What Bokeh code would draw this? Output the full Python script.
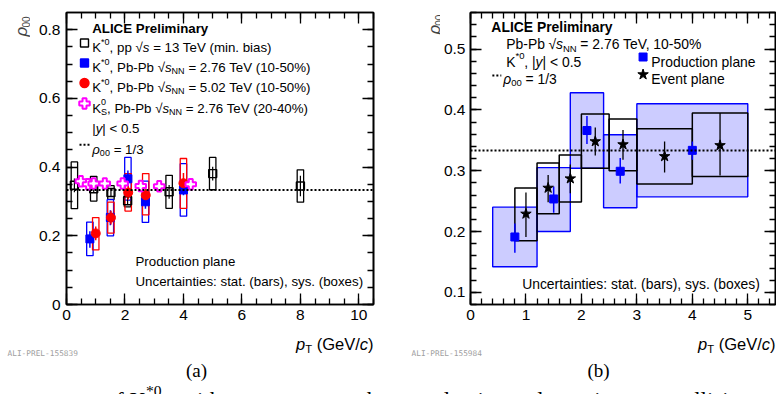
import math
from bokeh.plotting import figure
from bokeh.models import Label, LinearAxis, Range1d, Span, SingleIntervalTicker
from bokeh.layouts import column, row
from bokeh.embed import file_html
from bokeh.resources import INLINE

# ---------------- data : panel (a) production plane ----------------
pp13_pt   = [0.27, 0.93, 1.52, 2.09, 3.51, 5.00, 8.00]
pp13_rho  = [0.347, 0.337, 0.326, 0.302, 0.328, 0.381, 0.345]
pp13_stat = [0.020, 0.012, 0.010, 0.010, 0.020, 0.020, 0.030]
pp13_sys  = [0.068, 0.036, 0.020, 0.018, 0.048, 0.047, 0.047]

pb276_pt      = [0.80, 1.50, 2.10, 2.70, 4.00]
pb276_rho     = [0.191, 0.2535, 0.366, 0.299, 0.3334]
pb276_stat_lo = [0.165, 0.231, 0.344, 0.279, 0.318]
pb276_stat_hi = [0.213, 0.274, 0.390, 0.321, 0.348]
pb276_sys_lo  = [0.142, 0.200, 0.304, 0.239, 0.257]
pb276_sys_hi  = [0.240, 0.305, 0.428, 0.359, 0.410]
pb276_bin_lo  = [0.4, 1.2, 1.8, 2.4, 3.0]
pb276_bin_hi  = [1.2, 1.8, 2.4, 3.0, 5.0]

pb502_pt     = [1.00, 1.52, 2.11, 2.71, 4.00]
pb502_rho    = [0.207, 0.253, 0.326, 0.318, 0.353]
pb502_stat   = [0.020, 0.020, 0.020, 0.020, 0.030]
pb502_sys_lo = [0.159, 0.208, 0.272, 0.261, 0.280]
pb502_sys_hi = [0.253, 0.298, 0.381, 0.381, 0.425]

k0s_pt  = [0.49, 0.74, 0.93, 1.31, 1.92, 2.54, 3.17, 4.25]
k0s_rho = [0.359, 0.350, 0.352, 0.352, 0.352, 0.345, 0.344, 0.350]

# ---------------- data : panel (b) event plane ----------------
ep_pt      = [1.00, 1.40, 1.80, 2.25, 2.75, 3.50, 4.50]
ep_bin_lo  = [0.8, 1.2, 1.6, 2.0, 2.5, 3.0, 4.0]
ep_bin_hi  = [1.2, 1.6, 2.0, 2.5, 3.0, 4.0, 5.0]
ep_rho     = [0.229, 0.2716, 0.287, 0.348, 0.343, 0.3235, 0.3416]
ep_stat_lo = [0.191, 0.248, 0.263, 0.325, 0.318, 0.297, 0.292]
ep_stat_hi = [0.264, 0.293, 0.310, 0.371, 0.367, 0.348, 0.395]
ep_sys_lo  = [0.185, 0.229, 0.2485, 0.304, 0.300, 0.278, 0.2906]
ep_sys_hi  = [0.2716, 0.3126, 0.3258, 0.393, 0.385, 0.369, 0.395]

rho_ref = 1.0 / 3.0
BOX_HW = 0.11   # half width of sys boxes in panel (a)

caption_words = ["with", "respect", "to", "the", "production", "plane", "in", "pp", "collisions"]

SANS = "Liberation Sans"
SERIF = "Liberation Serif"
MONO = "DejaVu Sans Mono"

# Arial / Liberation Sans advance widths (1/1000 em)
W = {}
for ch, w in zip(" !\"#$%&'()*+,-./", [278, 278, 355, 556, 556, 889, 667, 191, 333, 333, 389, 584, 278, 333, 278, 278]):
    W[ch] = w
for ch in "0123456789":
    W[ch] = 556
for ch, w in zip(":;<=>?", [278, 278, 584, 584, 584, 556]):
    W[ch] = w
for ch, w in zip("ABCDEFGHIJKLMNOPQRSTUVWXYZ",
                 [667, 667, 722, 722, 667, 611, 778, 722, 278, 500, 667, 556, 833, 722, 778, 667, 778, 722, 667, 611, 722, 667, 944, 667, 667, 611]):
    W[ch] = w
for ch, w in zip("abcdefghijklmnopqrstuvwxyz",
                 [556, 556, 500, 556, 556, 278, 556, 556, 222, 222, 500, 222, 833, 556, 556, 556, 556, 333, 500, 278, 556, 500, 722, 500, 500, 500]):
    W[ch] = w
W["|"] = 260
W["\u03c1"] = 577
W["\u221a"] = 549

# Times / Liberation Serif widths for the caption line
TW = {'o': 500, 'f': 333, 'K': 722, '*': 500, '0': 500, 'w': 722, 'i': 278, 't': 278, 'h': 500,
      'r': 333, 'e': 444, 's': 389, 'p': 500, 'c': 444, 'd': 500, 'u': 500, 'n': 500, 'l': 278,
      'a': 444, ' ': 250}


def tw(s, size, table=W):
    return sum(table.get(c, 500) for c in s) * size / 1000.0


class Panel:
    """frame given in window pixels, with its data ranges"""
    def __init__(self, p, fl, fr, ft, fb, xr, yr):
        self.p = p
        self.fl, self.fr, self.ft, self.fb = fl, fr, ft, fb
        self.xr, self.yr = xr, yr

    def d(self, px, py):
        x0, x1 = self.xr
        y0, y1 = self.yr
        x = x0 + (px - self.fl) / (self.fr - self.fl) * (x1 - x0)
        y = y0 + (self.fb - py) / (self.fb - self.ft) * (y1 - y0)
        return x, y


def put(pan, px, py, txt, size, font=SANS, style="normal", color="black", align="left", baseline="alphabetic"):
    lx, ly = pan.d(px, py)
    pan.p.add_layout(Label(x=lx, y=ly, text=txt, text_font=font, text_font_size=f"{size:.1f}px",
                           text_font_style=style, text_color=color, text_baseline=baseline,
                           text_align=align))


def rich(pan, x, y, pieces, size, align="left", font=SANS, color="black", table=W):
    def fsize(st):
        return size * 0.68 if st.startswith(("sup", "sub")) else size
    total = sum(tw(t, fsize(st), table) for t, st in pieces if not st.endswith("0"))
    cx = x - total if align == "right" else x
    for txt, st in pieces:
        fs = fsize(st)
        lead = len(txt) - len(txt.lstrip(" "))
        if lead:
            cx += tw(" " * lead, fs, table)
            txt = txt.lstrip(" ")
        dy = 0.0
        if st.startswith("sup"):
            dy = -0.42 * size
        elif st.startswith("sub"):
            dy = 0.30 * size
        fstyle = "italic" if st == "i" else ("bold" if st == "b" else "normal")
        if txt.strip():
            put(pan, cx, y + dy, txt, fs, font=font, style=fstyle, color=color)
        if not st.endswith("0"):
            cx += tw(txt, fs, table)


def style_axes(p, xtick, xminor, ytick, yminor, lab_size, ystandoff, y_over=None):
    p.xgrid.visible = False
    p.ygrid.visible = False
    p.outline_line_color = "black"
    p.outline_line_width = 1.6
    p.background_fill_color = "white"
    p.border_fill_color = "white"
    xt = SingleIntervalTicker(interval=xtick, num_minor_ticks=xminor)
    yt = SingleIntervalTicker(interval=ytick, num_minor_ticks=yminor)
    p.xaxis.ticker = xt
    p.yaxis.ticker = yt
    for ax in [p.xaxis[0], p.yaxis[0]]:
        ax.major_tick_in = 11
        ax.major_tick_out = 0
        ax.minor_tick_in = 6
        ax.minor_tick_out = 0
        ax.axis_line_width = 1.6
        ax.major_tick_line_width = 1.3
        ax.minor_tick_line_width = 1.3
        ax.major_label_text_font = SANS
        ax.major_label_text_font_size = lab_size
        ax.major_label_text_color = "black"
    p.xaxis.major_label_standoff = 5
    p.yaxis.major_label_standoff = ystandoff
    if y_over:
        p.yaxis.major_label_overrides = y_over
    for loc, tk in [("right", yt), ("above", xt)]:
        ax = LinearAxis(ticker=tk, major_tick_in=11, major_tick_out=0, minor_tick_in=6,
                        minor_tick_out=0, major_label_text_font_size="1px",
                        major_label_text_color=None, major_label_standoff=0, axis_line_width=1.6,
                        major_tick_line_width=1.3, minor_tick_line_width=1.3)
        p.add_layout(ax, loc)


def strip(x0, x1, y0, y1):
    w, h = x1 - x0, y1 - y0
    f = figure(width=w, height=h, x_range=Range1d(0, w), y_range=Range1d(0, h),
               output_backend="svg", toolbar_location=None, min_border=0)
    f.axis.visible = False
    f.xgrid.visible = False
    f.ygrid.visible = False
    f.outline_line_color = None
    f.background_fill_color = "white"
    f.border_fill_color = "white"
    return f, Panel(f, x0, x1, y0, y1, (0, w), (0, h))


TOP_H = 330      # height of the two plot panels (frame bottom at y=304)

# ======================= panel (a) =======================
p1 = figure(width=360, height=TOP_H, x_range=Range1d(0, 10.5), y_range=Range1d(0, 0.85),
            output_backend="svg", toolbar_location=None,
            min_border_left=36, min_border_right=17, min_border_top=12, min_border_bottom=TOP_H - 304)
style_axes(p1, 2, 4, 0.2, 4, "15.5px", 6, y_over={0: "0"})
P1 = Panel(p1, 66, 373, 12, 304, (0, 10.5), (0, 0.85))

p1.quad(left=[x - BOX_HW for x in pp13_pt], right=[x + BOX_HW for x in pp13_pt],
        bottom=[r - s for r, s in zip(pp13_rho, pp13_sys)], top=[r + s for r, s in zip(pp13_rho, pp13_sys)],
        fill_color=None, line_color="black", line_width=1.3)
p1.quad(left=[x - BOX_HW for x in pb276_pt], right=[x + BOX_HW for x in pb276_pt],
        bottom=pb276_sys_lo, top=pb276_sys_hi, fill_color=None, line_color="blue", line_width=1.3)
p1.quad(left=[x - BOX_HW for x in pb502_pt], right=[x + BOX_HW for x in pb502_pt],
        bottom=pb502_sys_lo, top=pb502_sys_hi, fill_color=None, line_color="red", line_width=1.3)
p1.add_layout(Span(location=rho_ref, dimension="width", line_color="black", line_width=2, line_dash="2 2"))
p1.segment(x0=pp13_pt, x1=pp13_pt, y0=[r - s for r, s in zip(pp13_rho, pp13_stat)],
           y1=[r + s for r, s in zip(pp13_rho, pp13_stat)], line_color="black", line_width=1.2)
p1.segment(x0=pb276_pt, x1=pb276_pt, y0=pb276_stat_lo, y1=pb276_stat_hi, line_color="blue", line_width=1.5)
p1.segment(x0=pb502_pt, x1=pb502_pt, y0=[r - s for r, s in zip(pb502_rho, pb502_stat)],
           y1=[r + s for r, s in zip(pb502_rho, pb502_stat)], line_color="red", line_width=1.5)
p1.scatter(pp13_pt, pp13_rho, marker="square", size=8, fill_color=None, line_color="black", line_width=1.4)
p1.scatter(pb276_pt, pb276_rho, marker="square", size=8, fill_color="blue", line_color="blue")
p1.scatter(pb502_pt, pb502_rho, marker="circle", size=9, fill_color="red", line_color="red")
p1.scatter(k0s_pt, k0s_rho, marker="plus", size=10.5, fill_color="white", line_color="magenta", line_width=2)

# legend (a)
LS = 13.3
rich(P1, 91.7, 28, [("ALICE Preliminary", "b")], LS)
for yy, mk, fc, lc, sz in [(42.5, "square", None, "black", 8), (62.5, "square", "blue", "blue", 8),
                            (82.5, "circle", "red", "red", 9), (103, "plus", "white", "magenta", 10.5)]:
    xx, yd = P1.d(84, yy)
    p1.scatter([xx], [yd], marker=mk, size=sz, fill_color=fc, line_color=lc,
               line_width=2 if mk == "plus" else 1.4)
rich(P1, 91.7, 47, [("K", "n"), ("*0", "sup"), (", pp ", "n"), ("\u221a", "n"), ("s", "i"),
                    (" = 13 TeV (min. bias)", "n")], LS)
rich(P1, 91.7, 67, [("K", "n"), ("*0", "sup"), (", Pb-Pb ", "n"), ("\u221a", "n"), ("s", "i"), ("NN", "sub"),
                    (" = 2.76 TeV (10-50%)", "n")], LS)
rich(P1, 91.7, 87, [("K", "n"), ("*0", "sup"), (", Pb-Pb ", "n"), ("\u221a", "n"), ("s", "i"), ("NN", "sub"),
                    (" = 5.02 TeV (10-50%)", "n")], LS)
rich(P1, 91.7, 107.5, [("K", "n"), ("0", "sup0"), ("S", "sub"), (", Pb-Pb ", "n"), ("\u221a", "n"), ("s", "i"),
                       ("NN", "sub"), (" = 2.76 TeV (20-40%)", "n")], LS)
rich(P1, 91.7, 128, [("|", "n"), ("y", "i"), ("| < 0.5", "n")], LS)
xa, ya = P1.d(79, 144.3)
xb, _ = P1.d(89, 144.3)
p1.line([xa, xb], [ya, ya], line_color="black", line_width=2, line_dash="2 2")
rich(P1, 91.7, 148.5, [("\u03c1", "i"), ("00", "sub"), (" = 1/3", "n")], LS)
rich(P1, 135, 261, [("Production plane", "n")], LS)
rich(P1, 135, 281, [("Uncertainties: stat. (bars), sys. (boxes)", "n")], LS)

# ======================= panel (b) =======================
p2 = figure(width=336, height=TOP_H, x_range=Range1d(0, 5.5), y_range=Range1d(0.08, 0.56),
            output_backend="svg", toolbar_location=None,
            min_border_left=28, min_border_right=1, min_border_top=12, min_border_bottom=TOP_H - 304)
style_axes(p2, 1, 5, 0.1, 5, "15.5px", 5)
P2 = Panel(p2, 468, 775, 12, 304, (0, 5.5), (0.08, 0.56))

p2.quad(left=pb276_bin_lo, right=pb276_bin_hi, bottom=pb276_sys_lo, top=pb276_sys_hi,
        fill_color="blue", fill_alpha=0.2, line_color="blue", line_width=1.4)
p2.quad(left=ep_bin_lo, right=ep_bin_hi, bottom=ep_sys_lo, top=ep_sys_hi,
        fill_color=None, line_color="black", line_width=1.5)
p2.add_layout(Span(location=rho_ref, dimension="width", line_color="black", line_width=2, line_dash="2 2"))
p2.segment(x0=pb276_pt, x1=pb276_pt, y0=pb276_stat_lo, y1=pb276_stat_hi, line_color="blue", line_width=1.5)
p2.scatter(pb276_pt, pb276_rho, marker="square", size=8, fill_color="blue", line_color="blue")
p2.segment(x0=ep_pt, x1=ep_pt, y0=ep_stat_lo, y1=ep_stat_hi, line_color="black", line_width=1.3)
p2.scatter(ep_pt, ep_rho, marker="star", size=11, fill_color="black", line_color="black")

RS = 13.9
rich(P2, 489, 26, [("ALICE Preliminary", "b")], RS)
rich(P2, 504, 43.5, [("Pb-Pb ", "n"), ("\u221a", "n"), ("s", "i"), ("NN", "sub"), (" = 2.76 TeV, 10-50%", "n")], RS)
rich(P2, 504, 61, [("K", "n"), ("*0", "sup"), (", |", "n"), ("y", "i"), ("| < 0.5", "n")], RS)
xa, ya = P2.d(490, 75)
xb, _ = P2.d(499, 75)
p2.line([xa, xb], [ya, ya], line_color="black", line_width=2, line_dash="2 2")
rich(P2, 501, 78, [("\u03c1", "i"), ("00", "sub"), (" = 1/3", "n")], RS)
xx, yy = P2.d(641.7, 56.5)
p2.scatter([xx], [yy], marker="square", size=8, fill_color="blue", line_color="blue")
xx, yy = P2.d(641.7, 74)
p2.scatter([xx], [yy], marker="star", size=11, fill_color="black", line_color="black")
rich(P2, 650, 61, [("Production plane", "n")], RS)
rich(P2, 650, 78.5, [("Event plane", "n")], RS)
rich(P2, 520, 283, [("Uncertainties: stat. (bars), sys. (boxes)", "n")], RS)

# ======================= y-title strips =======================
ya_fig, YA = strip(0, 30, 0, TOP_H)
yb_fig, YB = strip(390, 440, 0, TOP_H)
for pan, bx, by in [(YA, 21, 27), (YB, 434, 25)]:
    rx, ry = pan.d(bx, by)
    pan.p.add_layout(Label(x=rx, y=ry, text="\u03c1", angle=math.pi / 2, text_font=SANS,
                           text_font_style="italic", text_font_size="17px",
                           text_baseline="alphabetic", text_align="left"))
    rx, ry = pan.d(bx + 4.5, by - 10)
    pan.p.add_layout(Label(x=rx, y=ry, text="00", angle=math.pi / 2, text_font=SANS,
                           text_font_size="10px", text_baseline="alphabetic", text_align="left"))

# ======================= bottom strip =======================
bot, PB = strip(0, 776, TOP_H, 394)
AX = 16.5
rich(PB, 373, 343.5, [("p", "i"), ("T", "sub"), (" (GeV/", "n"), ("c", "i"), (")", "n")], AX, align="right")
rich(PB, 775, 343.5, [("p", "i"), ("T", "sub"), (" (GeV/", "n"), ("c", "i"), (")", "n")], AX, align="right")
for txt, x0 in [("ALI-PREL-155839", 7), ("ALI-PREL-155984", 411)]:
    put(PB, x0, 353, txt, 7.8, font=MONO, color="#a0a0a0")
for txt, cx in [("(a)", 196), ("(b)", 598)]:
    put(PB, cx, 370, txt, 19, font=SERIF, align="center", baseline="middle")

# caption line, mostly below the window edge (only the letter tops show)
CS = 23
CB = 400.0
cx = 104
put(PB, cx, CB, "of", CS, font=SERIF)
cx += tw("of ", CS, TW)
put(PB, cx, CB, "K", CS, font=SERIF)
cx += tw("K", CS, TW)
put(PB, cx, CB - 0.42 * CS, "*0", CS * 0.68, font=SERIF)
cx += tw("*0", CS * 0.68, TW)
words_w = sum(tw(wd, CS, TW) for wd in caption_words[:-1])
gap = (672 - cx - words_w) / len(caption_words)
cx += gap
for wd in caption_words:
    put(PB, cx, CB, wd, CS, font=SERIF)
    cx += tw(wd, CS, TW) + gap

layout = column(row(ya_fig, p1, yb_fig, p2), bot)
open("out.html", "w").write(file_html(layout, INLINE))
